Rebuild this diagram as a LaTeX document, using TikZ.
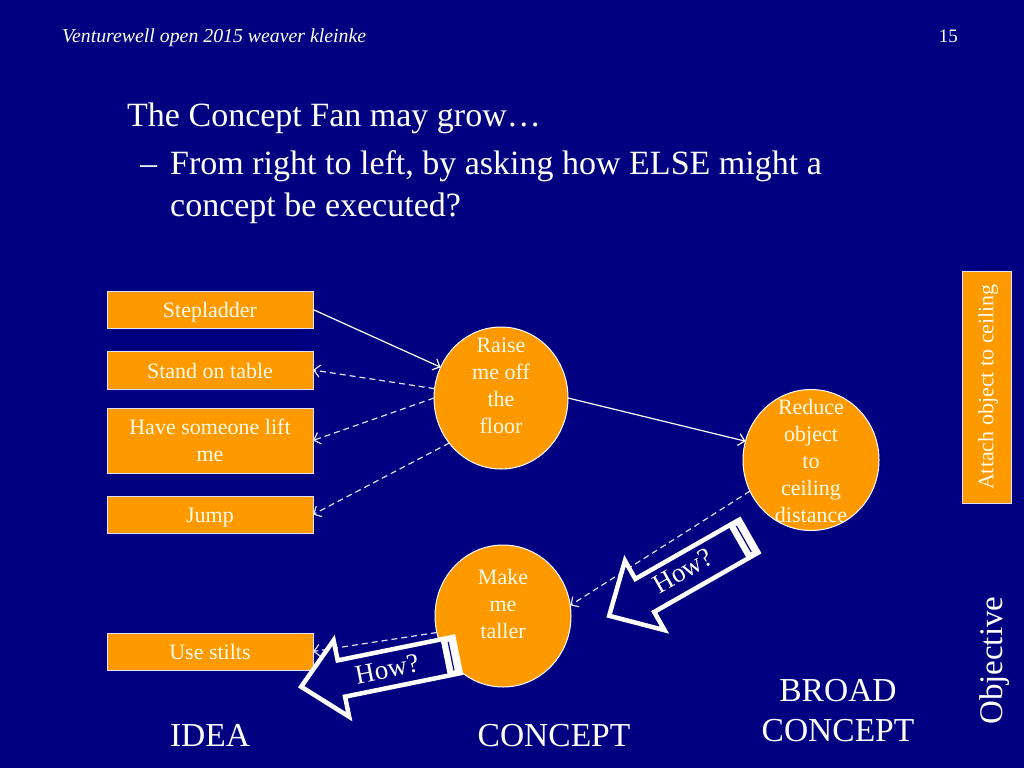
\documentclass[tikz,border=0pt]{standalone}
\usepackage{fontspec}
\setmainfont{Liberation Serif}
\usetikzlibrary{shapes.geometric,arrows.meta}
\definecolor{navy}{RGB}{0,0,128}
\definecolor{orng}{RGB}{255,153,0}
\definecolor{cream}{RGB}{255,252,235}
\definecolor{linec}{RGB}{225,225,255}
\begin{document}
\begin{tikzpicture}[x=1pt,y=-1pt,
  box/.style={draw=linec, line width=1pt, fill=orng, rectangle, minimum width=206pt,
    inner sep=0pt, outer sep=0pt, text=cream, font=\fontsize{22}{27}\selectfont, align=center},
  boxone/.style={box, text height=17pt, text depth=1pt},
  circ/.style={draw=white, line width=1pt, fill=orng, ellipse, inner sep=0pt, outer sep=0pt},
  ctext/.style={text=cream, font=\fontsize{22}{27}\selectfont, align=center, inner sep=0pt},
  sline/.style={draw=white, line width=1.2pt, -{Straight Barb[length=6pt,width=12pt]}},
  dline/.style={sline, draw=linec, dash pattern=on 6pt off 4pt},
  wtext/.style={text=white, inner sep=0pt},
  howarrow/.style={draw=white, line width=4.5pt, fill=navy, line join=miter},
  howtext/.style={text=white, inner sep=0pt, font=\fontsize{27}{30}\selectfont},
]
\fill[navy] (0,0) rectangle (1024,768);
\useasboundingbox (0,0) rectangle (1024,768);

% header
\node[wtext, anchor=base west, font=\fontsize{19.8}{22}\selectfont\itshape] (hdr) at (62,42) {Venturewell open 2015 weaver kleinke};
\node[wtext, anchor=base east, font=\fontsize{19}{22}\selectfont] (pg) at (958,42) {15};

% title text
\node[wtext, anchor=base west, font=\fontsize{34}{40}\selectfont] (title) at (127,126) {The Concept Fan may grow…};
\node[wtext, anchor=base west, font=\fontsize{34}{40}\selectfont] (bul) at (140,174) {–};
\node[wtext, anchor=base west, font=\fontsize{34}{40}\selectfont] (sub1) at (170,174) {From right to left, by asking how ELSE might a};
\node[wtext, anchor=base west, font=\fontsize{34}{40}\selectfont] (sub2) at (170,216) {concept be executed?};

% idea boxes
\node[boxone, minimum height=37pt] (step) at (210,309.5) {Stepladder};
\node[boxone, minimum height=38pt] (stand) at (210,370) {Stand on table};
\node[box, minimum height=65pt] (have) at (210,440.5) {Have someone lift\\me};
\node[boxone, minimum height=37pt] (jump) at (210,514.5) {Jump};
\node[boxone, minimum height=37pt] (stilts) at (210,651.5) {Use stilts};

% attach box
\node[box, minimum width=49pt, minimum height=232pt] (attach) at (986.5,387) {};
\node[ctext, rotate=90] (attachtxt) at (988,387) {Attach object to ceiling};

% concept circles
\node[circ, minimum width=134pt, minimum height=142pt] (raise) at (501,398) {};
\node[ctext] (raisetxt) at (501,386) {Raise\\me off\\the\\floor};
\node[circ, minimum width=136pt, minimum height=141pt] (reduce) at (811,460) {};
\node[ctext] (reducetxt) at (811,461) {Reduce\\object\\to\\ceiling\\distance};
\node[circ, minimum width=136pt, minimum height=142pt] (make) at (503,616) {};
\node[ctext] (maketxt) at (503,604) {Make\\me\\taller};

% connectors
\draw[sline] (step.east) -- (raise.153);
\draw[dline] (raise.172) -- (stand.east);
\draw[dline] (raise.180) -- (have.east);
\draw[dline] (raise.221) -- (jump.east);
\draw[sline] (raise.0) -- (reduce.164);
\draw[dline] (reduce.207) -- (make.9);
\draw[dline] (make.194) -- (stilts.east);

% How? arrows
\begin{scope}[shift={(749,536)}, rotate=209.7]
  \draw[howarrow] (0,-19) -- (120,-19) -- (120,-40) -- (161,0) -- (120,40) -- (120,19) -- (0,19) -- cycle;
  \fill[white] (0,-19) rectangle (13,19);
  \draw[navy, line width=1.2pt] (6,-15) -- (6,15);
\end{scope}
\node[howtext, rotate=29.7] (how1) at (683,571) {How?};

\begin{scope}[shift={(457,655)}, rotate=191.5]
  \draw[howarrow] (0,-18.5) -- (118,-18.5) -- (118,-39) -- (159,0) -- (118,39) -- (118,18.5) -- (0,18.5) -- cycle;
  \fill[white] (0,-18.5) rectangle (13,18.5);
  \draw[navy, line width=1.2pt] (6,-14.5) -- (6,14.5);
\end{scope}
\node[howtext, rotate=11.5] (how2) at (387,669) {How?};

% bottom labels
\node[wtext, anchor=base, font=\fontsize{33.5}{40}\selectfont] (idea) at (210,746) {IDEA};
\node[wtext, anchor=base, font=\fontsize{33.5}{40}\selectfont] (concept) at (554,746) {CONCEPT};
\node[wtext, anchor=base, font=\fontsize{33.5}{40}\selectfont] (broad1) at (838,701) {BROAD};
\node[wtext, anchor=base, font=\fontsize{33.5}{40}\selectfont] (broad2) at (838,741) {CONCEPT};
\node[wtext, anchor=base west, rotate=90, font=\fontsize{33}{40}\selectfont] (obj) at (1002,725) {Objective};
\end{tikzpicture}
\end{document}
